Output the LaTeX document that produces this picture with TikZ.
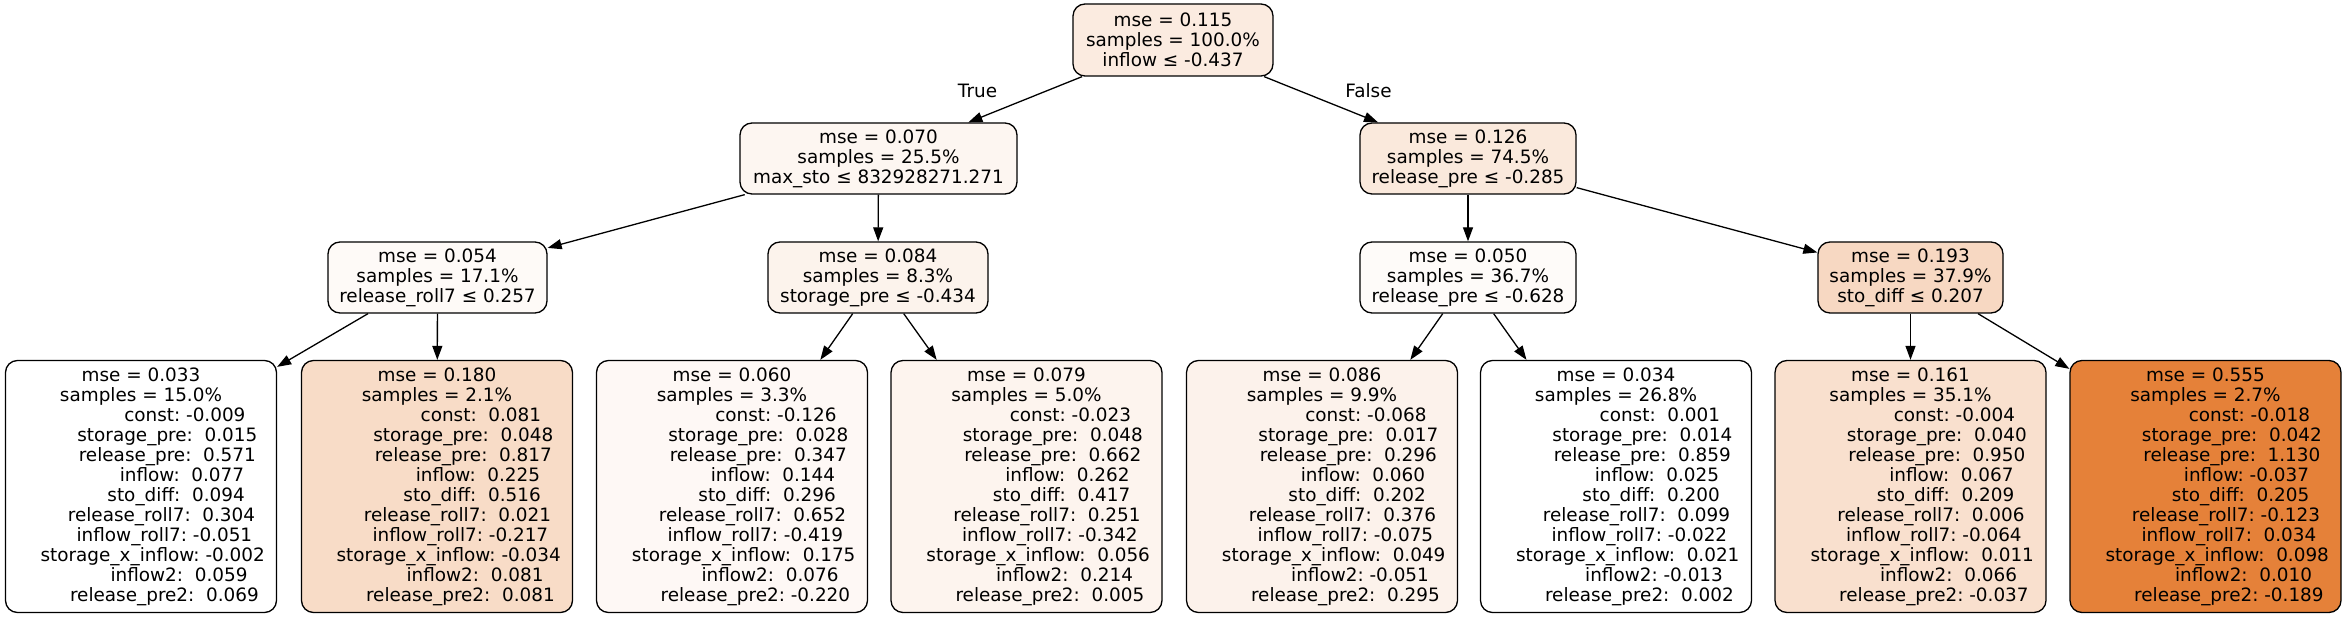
\documentclass[tikz,border=0pt]{standalone}
\usepackage{fontspec}
\setmainfont{DejaVu Sans}
\usetikzlibrary{arrows.meta}
\definecolor{cR}{RGB}{251,235,224}
\definecolor{cA}{RGB}{253,246,241}
\definecolor{cB}{RGB}{250,233,220}
\definecolor{cN1}{RGB}{254,250,247}
\definecolor{cN2}{RGB}{252,243,236}
\definecolor{cN3}{RGB}{254,251,249}
\definecolor{cN4}{RGB}{247,216,194}
\definecolor{cL1}{RGB}{255,255,255}
\definecolor{cL2}{RGB}{248,220,199}
\definecolor{cL3}{RGB}{254,248,245}
\definecolor{cL4}{RGB}{253,244,238}
\definecolor{cL5}{RGB}{252,242,235}
\definecolor{cL6}{RGB}{255,255,255}
\definecolor{cL7}{RGB}{249,224,206}
\definecolor{cL8}{RGB}{229,129,57}
\newcommand\rw[3]{\hspace*{#1\fontdimen2\font}#2:\ #3}
\newcommand\rowsA[5]{\rw{15}{const}{#1}\\\rw{9}{storage\_pre}{#2}\\\rw{9}{release\_pre}{#3}\\\rw{14}{inflow}{#4}\\\rw{12}{sto\_diff}{#5}}
\newcommand\rowsB[5]{\rw{7}{release\_roll7}{#1}\\\rw{8}{inflow\_roll7}{#2}\\\rw{4}{storage\_x\_inflow}{#3}\\\rw{13}{inflow2}{#4}\\\rw{8}{release\_pre2}{#5}}
\begin{document}
\begin{tikzpicture}[x=1pt,y=-1pt,
  box/.style={draw=black, line width=1.3pt, rounded corners=12pt, align=center,
    inner sep=0pt, font=\fontsize{18.4}{20}\selectfont},
  inner/.style={box, minimum height=71pt},
  leaf/.style={box, minimum width=271pt, minimum height=252pt},
  edge/.style={line width=1.3pt, draw=black, -{Triangle[length=14pt,width=10pt]}},
  elabel/.style={font=\fontsize{18.4}{20}\selectfont, inner sep=0pt}]
\useasboundingbox (0,0) rectangle (2346,617);
\fill[white] (0,0) rectangle (2346,617);
\node[inner, fill=cR, minimum width=200pt, minimum height=72pt] (R) at (1173,40) {mse = 0.115\\samples = 100.0\%\\inflow ≤ -0.437};
\node[inner, fill=cA, minimum width=277pt] (A) at (878.5,158.5) {mse = 0.070\\samples = 25.5\%\\max\_sto ≤ 832928271.271};
\node[inner, fill=cB, minimum width=216pt] (B) at (1468,158.5) {mse = 0.126\\samples = 74.5\%\\release\_pre ≤ -0.285};
\node[inner, fill=cN1, minimum width=219pt] (N1) at (437.5,277.5) {mse = 0.054\\samples = 17.1\%\\release\_roll7 ≤ 0.257};
\node[inner, fill=cN2, minimum width=220pt] (N2) at (878,277.5) {mse = 0.084\\samples = 8.3\%\\storage\_pre ≤ -0.434};
\node[inner, fill=cN3, minimum width=216pt] (N3) at (1468,277.5) {mse = 0.050\\samples = 36.7\%\\release\_pre ≤ -0.628};
\node[inner, fill=cN4, minimum width=185pt] (N4) at (1910.5,277.5) {mse = 0.193\\samples = 37.9\%\\sto\_diff ≤ 0.207};
\node[leaf, fill=cL1] (L1) at (141,486.5) {mse = 0.033\\samples = 15.0\%\\\rowsA{-0.009}{~0.015}{~0.571}{~0.077}{~0.094}\\\rowsB{~0.304}{-0.051}{-0.002}{~0.059}{~0.069}};
\node[leaf, fill=cL2] (L2) at (437,486.5) {mse = 0.180\\samples = 2.1\%\\\rowsA{~0.081}{~0.048}{~0.817}{~0.225}{~0.516}\\\rowsB{~0.021}{-0.217}{-0.034}{~0.081}{~0.081}};
\node[leaf, fill=cL3] (L3) at (732,486.5) {mse = 0.060\\samples = 3.3\%\\\rowsA{-0.126}{~0.028}{~0.347}{~0.144}{~0.296}\\\rowsB{~0.652}{-0.419}{~0.175}{~0.076}{-0.220}};
\node[leaf, fill=cL4] (L4) at (1026.5,486.5) {mse = 0.079\\samples = 5.0\%\\\rowsA{-0.023}{~0.048}{~0.662}{~0.262}{~0.417}\\\rowsB{~0.251}{-0.342}{~0.056}{~0.214}{~0.005}};
\node[leaf, fill=cL5] (L5) at (1322,486.5) {mse = 0.086\\samples = 9.9\%\\\rowsA{-0.068}{~0.017}{~0.296}{~0.060}{~0.202}\\\rowsB{~0.376}{-0.075}{~0.049}{-0.051}{~0.295}};
\node[leaf, fill=cL6] (L6) at (1616,486.5) {mse = 0.034\\samples = 26.8\%\\\rowsA{~0.001}{~0.014}{~0.859}{~0.025}{~0.200}\\\rowsB{~0.099}{-0.022}{~0.021}{-0.013}{~0.002}};
\node[leaf, fill=cL7] (L7) at (1910.5,486.5) {mse = 0.161\\samples = 35.1\%\\\rowsA{-0.004}{~0.040}{~0.950}{~0.067}{~0.209}\\\rowsB{~0.006}{-0.064}{~0.011}{~0.066}{-0.037}};
\node[leaf, fill=cL8] (L8) at (2205.5,486.5) {mse = 0.555\\samples = 2.7\%\\\rowsA{-0.018}{~0.042}{~1.130}{-0.037}{~0.205}\\\rowsB{-0.123}{~0.034}{~0.098}{~0.010}{-0.189}};
\draw[edge] (R) -- (A);
\draw[edge] (R) -- (B);
\draw[edge] (A) -- (N1);
\draw[edge] (A) -- (N2);
\draw[edge] (B) -- (N3);
\draw[edge] (B) -- (N4);
\draw[edge] ([xshift=-69.5pt]N1.south) -- ([yshift=-7pt]L1.north east);
\draw[edge] (N1) -- (L2);
\draw[edge] (N2) -- (L3);
\draw[edge] (N2) -- (L4);
\draw[edge] (N3) -- (L5);
\draw[edge] (N3) -- (L6);
\draw[edge] (N4) -- (L7);
\draw[edge] ([xshift=67.5pt]N4.south) -- ([yshift=-9pt]L8.north west);
\node[elabel] (tT) at (977.5,91) {True};
\node[elabel] (tF) at (1368.5,91) {False};
\end{tikzpicture}
\end{document}
